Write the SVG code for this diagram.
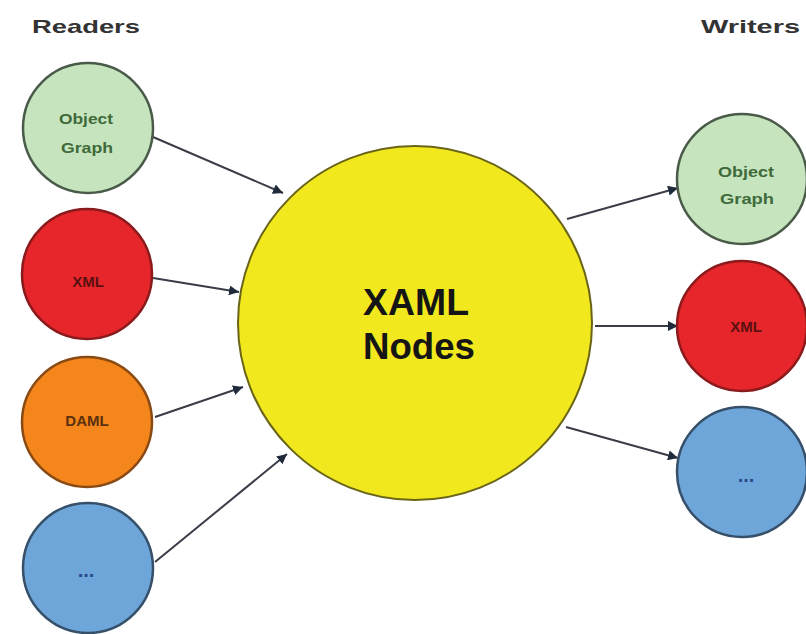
<svg xmlns="http://www.w3.org/2000/svg" width="806" height="634" viewBox="0 0 806 634">
<defs>
<style>
.hdr{font-family:"Liberation Sans",Arial,sans-serif;font-weight:bold;font-size:19px;fill:#333}
.sm{font-family:"Liberation Sans",Arial,sans-serif;font-size:15px;font-weight:bold;text-anchor:middle}
.big{font-family:"Liberation Sans",Arial,sans-serif;font-weight:bold;font-size:36px;text-anchor:middle;fill:#151515}
.n{stroke-width:2.5}
.green{fill:#c6e5bf;stroke:#4a5a48}
.red{fill:#e6262b;stroke:#8a1a1c}
.orange{fill:#f4861c;stroke:#8a4a14}
.blue{fill:#6ea6da;stroke:#37506a}
.yellow{fill:#f2e81e;stroke:#6a6418;stroke-width:2}
.c{stroke:#3a3d48;stroke-width:2;fill:none;marker-end:url(#ah)}
.dots{font-size:20px}
</style>
<marker id="ah" viewBox="0 0 10 10" refX="10" refY="5" markerWidth="5" markerHeight="5" orient="auto" markerUnits="strokeWidth">
<path d="M0,0 L10,5 L0,10 z" fill="#1f2a3a"/>
</marker>
</defs>
<rect width="806" height="634" fill="#ffffff"/>
<text class="hdr" x="32" y="33" textLength="108" lengthAdjust="spacingAndGlyphs">Readers</text>
<text class="hdr" x="701" y="33" textLength="99" lengthAdjust="spacingAndGlyphs">Writers</text>
<g id="connectors">
<line class="c" x1="153" y1="137" x2="283" y2="193"/>
<line class="c" x1="153" y1="278" x2="239" y2="292"/>
<line class="c" x1="155" y1="417" x2="243" y2="387"/>
<line class="c" x1="155" y1="562" x2="287" y2="454"/>
<line class="c" x1="567" y1="219" x2="678" y2="188"/>
<line class="c" x1="595" y1="326" x2="678" y2="326"/>
<line class="c" x1="566" y1="427" x2="678" y2="458"/>
</g>
<g id="xaml-nodes">
<circle class="yellow" cx="415" cy="323" r="177"/>
<text class="big" x="416" y="315" textLength="106" lengthAdjust="spacingAndGlyphs">XAML</text>
<text class="big" x="419" y="359" textLength="112" lengthAdjust="spacingAndGlyphs">Nodes</text>
</g>
<g id="reader-object-graph">
<circle class="n green" cx="88" cy="128" r="65"/>
<text class="sm" x="86" y="124" fill="#3f6a3a" textLength="54" lengthAdjust="spacingAndGlyphs">Object</text>
<text class="sm" x="87" y="153" fill="#3f6a3a" textLength="52" lengthAdjust="spacingAndGlyphs">Graph</text>
</g>
<g id="reader-xml">
<circle class="n red" cx="87" cy="274" r="65"/>
<text class="sm" x="88" y="287" fill="#5a1010" font-size="16">XML</text>
</g>
<g id="reader-daml">
<circle class="n orange" cx="87" cy="422" r="65"/>
<text class="sm" x="87" y="426" fill="#5a3010" font-size="17">DAML</text>
</g>
<g id="reader-more">
<circle class="n blue" cx="88" cy="568" r="65"/>
<text class="sm dots" x="86" y="577" fill="#2a4a8a">...</text>
</g>
<g id="writer-object-graph">
<circle class="n green" cx="742" cy="179" r="65"/>
<text class="sm" x="746" y="177" fill="#3f6a3a" textLength="56" lengthAdjust="spacingAndGlyphs">Object</text>
<text class="sm" x="747" y="204" fill="#3f6a3a" textLength="54" lengthAdjust="spacingAndGlyphs">Graph</text>
</g>
<g id="writer-xml">
<circle class="n red" cx="742" cy="326" r="65"/>
<text class="sm" x="746" y="332" fill="#5a1010" font-size="16">XML</text>
</g>
<g id="writer-more">
<circle class="n blue" cx="742" cy="472" r="65"/>
<text class="sm dots" x="746" y="482" fill="#2a4a8a">...</text>
</g>
</svg>
